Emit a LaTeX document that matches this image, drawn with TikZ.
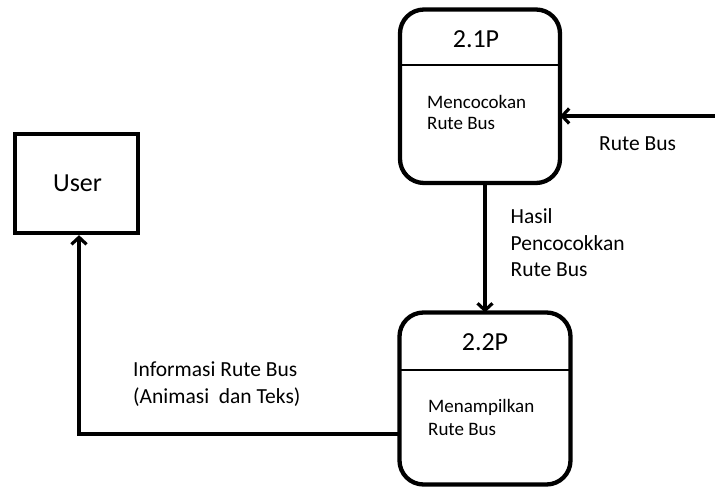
\documentclass[tikz,border=0pt]{standalone}
\usepackage{fontspec}
\setmainfont{Carlito}
\usetikzlibrary{arrows.meta}
\begin{document}
\begin{tikzpicture}[x=1pt,y=-1pt,
  proc/.style={draw,line width=4.3pt,rounded corners=24pt},
  ent/.style={draw,line width=4.3pt},
  flow/.style={line width=3.2pt,-{Straight Barb[length=7pt,width=15pt]}},
  lbl/.style={font=\fontsize{21.5}{26}\selectfont,anchor=base west,inner sep=0pt},
  small/.style={font=\fontsize{19}{22}\selectfont,anchor=base west,inner sep=0pt},
  title/.style={font=\fontsize{26}{30}\selectfont,anchor=base,inner sep=0pt}]
\useasboundingbox (0,0) rectangle (715,489);
% process 2.1P
\draw[proc] (400,9.5) rectangle (560,183);
\coordinate (p1r) at (560,116);
\coordinate (p1b) at (485,183);
\draw[line width=1.6pt] (400,65) -- (560,65);
\node[title] (t1) at (476,48) {2.1P};
\node[small] (d1a) at (427,108.3) {Mencocokan};
\node[small] (d1b) at (427,129.3) {Rute Bus};
% process 2.2P
\draw[proc] (399.5,312.5) rectangle (570.5,484.5);
\coordinate (p2t) at (485,312.5);
\coordinate (p2l) at (399.5,434);
\draw[line width=1.6pt] (399.5,370) -- (570.5,370);
\node[title] (t2) at (485,350) {2.2P};
\node[small] (d2a) at (428,412.7) {Menampilkan};
\node[small] (d2b) at (428,435) {Rute Bus};
% user
\node[ent,minimum width=123pt,minimum height=99pt,inner sep=0pt] (user) at (76.5,183.5) {};
\node[font=\fontsize{26}{30}\selectfont,anchor=base,inner sep=0pt] (ut) at (77.5,191.7) {User};
% flows
\coordinate (src) at (716,116);
\draw[flow] (src) -- (p1r);
\node[lbl] (l1) at (599,150.7) {Rute Bus};
\draw[flow] (p1b) -- (p2t);
\node[lbl] (l2a) at (510.5,224) {Hasil};
\node[lbl] (l2b) at (510.5,250.7) {Pencocokkan};
\node[lbl] (l2c) at (510.5,276.7) {Rute Bus};
\coordinate (corner) at (79,434);
\draw[line width=3.2pt] (p2l) -- (corner);
\draw[flow] ([yshift=-1.6pt]corner) -- (user.south -| corner);
\node[lbl] (l3a) at (133,376.7) {Informasi Rute Bus};
\node[lbl] (l3b) at (133,403) {(Animasi\ \ dan Teks)};
\end{tikzpicture}
\end{document}
